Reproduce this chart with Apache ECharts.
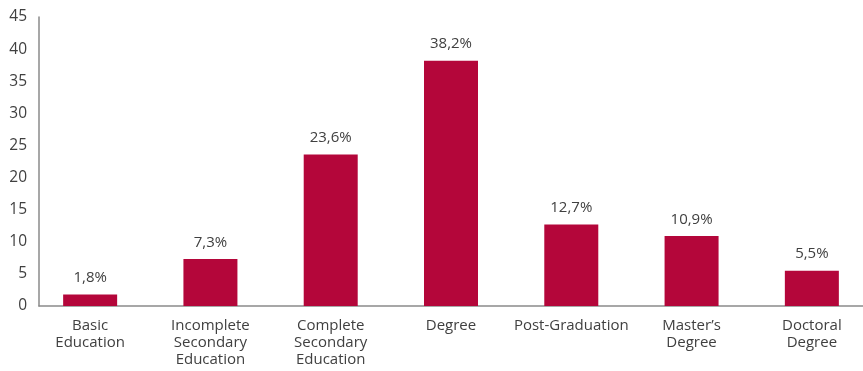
<!DOCTYPE html>
<html>
<head>
<meta charset="utf-8">
<script src="https://cdn.jsdelivr.net/npm/echarts@6/dist/echarts.min.js"></script>
<style>
  html, body { margin: 0; padding: 0; background: #ffffff; overflow: hidden; }
  #chart { width: 872px; height: 371px; }
</style>
</head>
<body>
<div id="chart"></div>
<script>
// Education level categories (line breaks as shown under the axis)
const categories = [
  'Basic\nEducation',
  'Incomplete\nSecondary\nEducation',
  'Complete\nSecondary\nEducation',
  'Degree',
  'Post-Graduation',
  'Master\u2019s\nDegree',
  'Doctoral\nDegree'
];
// Share of respondents per level (%)
const shares = [1.8, 7.3, 23.6, 38.2, 12.7, 10.9, 5.5];
// Value axis range
const yMin = 0, yMax = 45, yStep = 5;

const FONT = '"Open Sans", "Liberation Sans", sans-serif';
const TEXT = '#404040';
const BAR = '#b4063a';

const chart = echarts.init(document.getElementById('chart'), null, { renderer: 'canvas' });

chart.setOption({
  animation: false,
  backgroundColor: '#ffffff',
  grid: [
    // axis frame
    { left: 39, right: 9, top: 17, bottom: 65 },
    // bar bands
    { left: 30, right: 0, top: 17, bottom: 65 }
  ],
  xAxis: [
    {
      gridIndex: 0, type: 'category', data: categories,
      axisLine: { show: true, lineStyle: { color: '#8a8a8a', width: 1.5 } },
      axisTick: { show: false }, axisLabel: { show: false }, splitLine: { show: false }
    },
    {
      gridIndex: 1, type: 'category', data: categories,
      axisLine: { show: false }, axisTick: { show: false },
      axisLabel: {
        interval: 0, margin: 11, color: TEXT, fontFamily: FONT,
        fontSize: 15, lineHeight: 17
      }
    }
  ],
  yAxis: [
    {
      gridIndex: 0, type: 'value', min: yMin, max: yMax, interval: yStep,
      axisLine: { show: true, lineStyle: { color: '#8a8a8a', width: 1.5 } },
      axisTick: { show: false }, splitLine: { show: false },
      axisLabel: { margin: 12, color: TEXT, fontFamily: FONT, fontSize: 15.5 }
    },
    {
      gridIndex: 1, type: 'value', min: yMin, max: yMax, interval: yStep, show: false
    }
  ],
  series: [{
    type: 'bar',
    xAxisIndex: 1, yAxisIndex: 1,
    data: shares,
    barWidth: 54,
    itemStyle: { color: BAR },
    label: {
      show: true, position: 'top', distance: 9,
      color: TEXT, fontFamily: FONT, fontSize: 15,
      formatter: p => p.value.toFixed(1).replace('.', ',') + '%'
    }
  }]
});
</script>
</body>
</html>
